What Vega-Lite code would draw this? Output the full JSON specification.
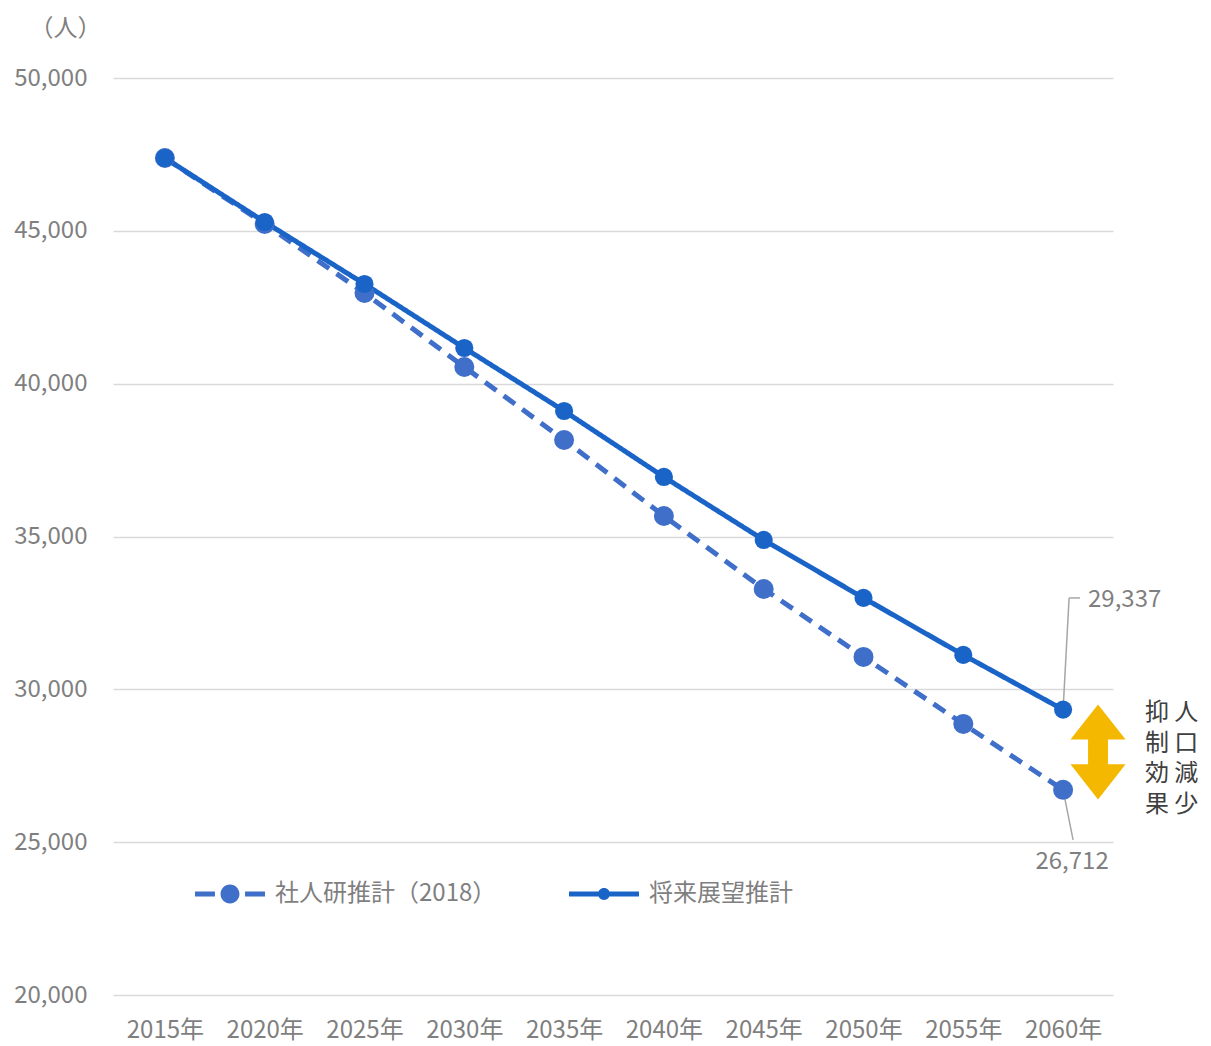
{
  "$schema": "https://vega.github.io/schema/vega-lite/v6.json",
  "width": 1000,
  "height": 917,
  "autosize": {"type": "none"},
  "padding": {"left": 113, "top": 78, "right": 98, "bottom": 51},
  "background": "white",
  "config": {"font": "Noto Sans CJK JP", "view": {"stroke": null}},
  "datasets": {
    "main": [
      {"year": 2015, "series": "社人研推計（2018）", "value": 47383},
      {"year": 2020, "series": "社人研推計（2018）", "value": 45224},
      {"year": 2025, "series": "社人研推計（2018）", "value": 42967},
      {"year": 2030, "series": "社人研推計（2018）", "value": 40546},
      {"year": 2035, "series": "社人研推計（2018）", "value": 38158},
      {"year": 2040, "series": "社人研推計（2018）", "value": 35672},
      {"year": 2045, "series": "社人研推計（2018）", "value": 33284},
      {"year": 2050, "series": "社人研推計（2018）", "value": 31060},
      {"year": 2055, "series": "社人研推計（2018）", "value": 28868},
      {"year": 2060, "series": "社人研推計（2018）", "value": 26712},
      {"year": 2015, "series": "将来展望推計", "value": 47383},
      {"year": 2020, "series": "将来展望推計", "value": 45290},
      {"year": 2025, "series": "将来展望推計", "value": 43261},
      {"year": 2030, "series": "将来展望推計", "value": 41168},
      {"year": 2035, "series": "将来展望推計", "value": 39107},
      {"year": 2040, "series": "将来展望推計", "value": 36948},
      {"year": 2045, "series": "将来展望推計", "value": 34887},
      {"year": 2050, "series": "将来展望推計", "value": 32990},
      {"year": 2055, "series": "将来展望推計", "value": 31125},
      {"year": 2060, "series": "将来展望推計", "value": 29337}
    ],
    "leaders": [
      {"year": 2060, "value": 29337, "year2": 2060.3, "value2": 32990},
      {"year": 2060.3, "value": 32990, "year2": 2060.85, "value2": 32990},
      {"year": 2060, "value": 26712, "year2": 2060.5, "value2": 25074}
    ],
    "labelTop": [{"year": 2061.25, "value": 32924, "label": "29,337"}],
    "labelBottom": [{"year": 2060.45, "value": 24354, "label": "26,712"}],
    "vtext": [
      {"year": 2064.71, "value": 29212, "label": "抑\n制\n効\n果"},
      {"year": 2066.17, "value": 29212, "label": "人\n口\n減\n少"}
    ],
    "arrow": [{"year": 2061.75, "value": 27952}]
  },
  "layer": [
    {
      "data": {"name": "main"},
      "mark": {"type": "line", "strokeWidth": 5},
      "encoding": {
        "x": {
          "field": "year", "type": "quantitative",
          "scale": {"domain": [2012.4, 2062.5], "nice": false, "zero": false},
          "axis": {
            "values": [2015, 2020, 2025, 2030, 2035, 2040, 2045, 2050, 2055, 2060],
            "labelExpr": "datum.value + '年'",
            "grid": false, "domain": false, "ticks": false,
            "labelFontSize": 24, "labelColor": "#7f7f7f", "labelPadding": 23,
            "title": null
          }
        },
        "y": {
          "field": "value", "type": "quantitative",
          "scale": {"domain": [20000, 50000], "nice": false, "zero": false},
          "axis": {
            "values": [20000, 25000, 30000, 35000, 40000, 45000, 50000],
            "format": ",d",
            "domain": false, "ticks": false,
            "labelFontSize": 24, "labelColor": "#7f7f7f", "labelPadding": 26,
            "gridColor": "#d9d9d9", "gridWidth": 1.5,
            "title": "（人）", "titleAngle": 0, "titleX": -48, "titleY": -50,
            "titleAlign": "center", "titleBaseline": "middle",
            "titleFontSize": 24, "titleFontWeight": "normal", "titleColor": "#7f7f7f"
          }
        },
        "color": {
          "field": "series", "type": "nominal",
          "scale": {"domain": ["社人研推計（2018）", "将来展望推計"], "range": ["#3F6FC8", "#1A64C8"]},
          "legend": {
            "orient": "none", "legendX": 82, "legendY": 781,
            "direction": "horizontal", "title": null,
            "labelFontSize": 24, "labelColor": "#7f7f7f", "labelLimit": 400,
            "symbolSize": 4900, "symbolStrokeWidth": 0, "symbolOpacity": 1,
            "labelOffset": 10, "columnPadding": 72, "padding": 0
          }
        },
        "strokeDash": {
          "field": "series", "type": "nominal",
          "scale": {"domain": ["社人研推計（2018）", "将来展望推計"], "range": [[14, 9], [1, 0]]},
          "legend": null
        }
      }
    },
    {
      "data": {"name": "main"},
      "transform": [{"filter": "false"}],
      "mark": {"type": "point", "filled": true, "opacity": 1},
      "encoding": {
        "x": {"field": "year", "type": "quantitative"},
        "y": {"field": "value", "type": "quantitative"},
        "color": {"field": "series", "type": "nominal"},
        "shape": {
          "field": "series", "type": "nominal",
          "scale": {
            "domain": ["社人研推計（2018）", "将来展望推計"],
            "range": [
              "M-1,-0.07 H-0.43 V0.07 H-1 Z M0.43,-0.07 H1 V0.07 H0.43 Z M-0.27,0 A0.27,0.27 0 1,1 0.27,0 A0.27,0.27 0 1,1 -0.27,0 Z",
              "M-1,-0.07 H1 V0.07 H-1 Z M-0.17,0 A0.17,0.17 0 1,1 0.17,0 A0.17,0.17 0 1,1 -0.17,0 Z"
            ]
          }
        }
      }
    },
    {
      "data": {"name": "leaders"},
      "mark": {"type": "rule", "color": "#a6a6a6", "strokeWidth": 1.5},
      "encoding": {
        "x": {"field": "year", "type": "quantitative"},
        "y": {"field": "value", "type": "quantitative"},
        "x2": {"field": "year2"},
        "y2": {"field": "value2"}
      }
    },
    {
      "data": {"name": "main"},
      "transform": [{"filter": "datum.series === '社人研推計（2018）'"}],
      "mark": {"type": "circle", "opacity": 1, "size": 400},
      "encoding": {
        "x": {"field": "year", "type": "quantitative"},
        "y": {"field": "value", "type": "quantitative"},
        "color": {"field": "series", "type": "nominal"}
      }
    },
    {
      "data": {"name": "main"},
      "transform": [{"filter": "datum.series === '将来展望推計'"}],
      "mark": {"type": "circle", "opacity": 1, "size": 330},
      "encoding": {
        "x": {"field": "year", "type": "quantitative"},
        "y": {"field": "value", "type": "quantitative"},
        "color": {"field": "series", "type": "nominal"}
      }
    },
    {
      "data": {"name": "labelTop"},
      "mark": {"type": "text", "align": "left", "baseline": "middle", "fontSize": 24, "color": "#7f7f7f"},
      "encoding": {
        "x": {"field": "year", "type": "quantitative"},
        "y": {"field": "value", "type": "quantitative"},
        "text": {"field": "label"}
      }
    },
    {
      "data": {"name": "labelBottom"},
      "mark": {"type": "text", "align": "center", "baseline": "middle", "fontSize": 24, "color": "#7f7f7f"},
      "encoding": {
        "x": {"field": "year", "type": "quantitative"},
        "y": {"field": "value", "type": "quantitative"},
        "text": {"field": "label"}
      }
    },
    {
      "data": {"name": "vtext"},
      "mark": {"type": "text", "align": "center", "baseline": "middle", "fontSize": 24, "lineHeight": 30.5, "lineBreak": "\n", "color": "#404040"},
      "encoding": {
        "x": {"field": "year", "type": "quantitative"},
        "y": {"field": "value", "type": "quantitative"},
        "text": {"field": "label"}
      }
    },
    {
      "data": {"name": "arrow"},
      "mark": {
        "type": "point", "filled": true, "opacity": 1, "size": 9025, "color": "#F5B800",
        "shape": "M0,-1 L0.58,-0.26 L0.21,-0.26 L0.21,0.26 L0.58,0.26 L0,1 L-0.58,0.26 L-0.21,0.26 L-0.21,-0.26 L-0.58,-0.26 Z"
      },
      "encoding": {
        "x": {"field": "year", "type": "quantitative"},
        "y": {"field": "value", "type": "quantitative"}
      }
    }
  ]
}
